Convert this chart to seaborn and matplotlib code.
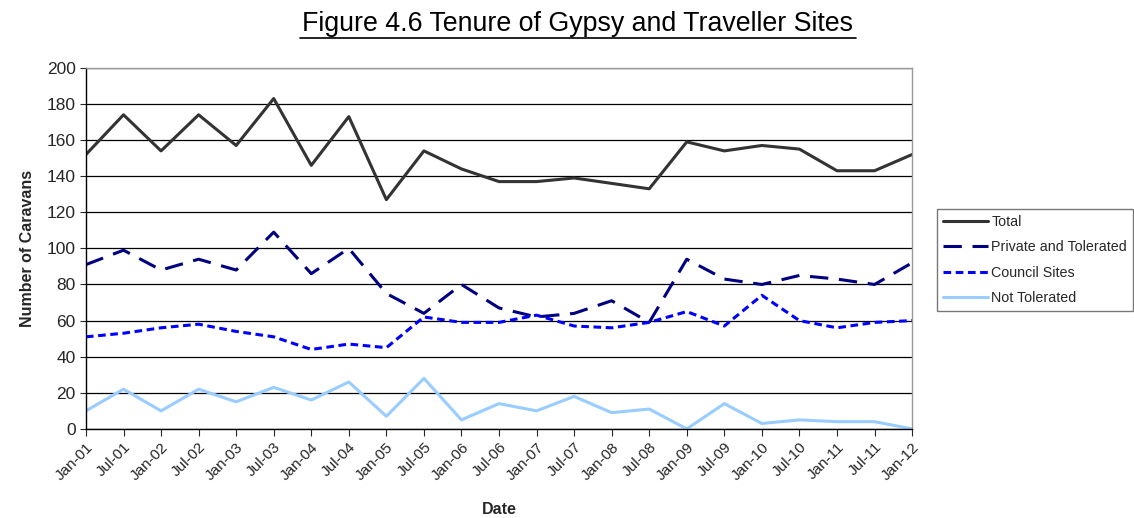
import matplotlib
matplotlib.use("Agg")
import matplotlib.pyplot as plt
import numpy as np
import pandas as pd
import seaborn as sns

DATES = [
    "Jan-01", "Jul-01", "Jan-02", "Jul-02", "Jan-03", "Jul-03", "Jan-04", "Jul-04",
    "Jan-05", "Jul-05", "Jan-06", "Jul-06", "Jan-07", "Jul-07", "Jan-08", "Jul-08",
    "Jan-09", "Jul-09", "Jan-10", "Jul-10", "Jan-11", "Jul-11", "Jan-12",
]
TOTAL = [152, 174, 154, 174, 157, 183, 146, 173, 127, 154, 144, 137,
         137, 139, 136, 133, 159, 154, 157, 155, 143, 143, 152]
PRIVATE = [91, 99, 88, 94, 88, 109, 86, 100, 75, 64, 80, 67,
           62, 64, 71, 59, 94, 83, 80, 85, 83, 80, 92]
COUNCIL = [51, 53, 56, 58, 54, 51, 44, 47, 45, 62, 59, 59,
           63, 57, 56, 59, 65, 57, 74, 60, 56, 59, 60]
NOT_TOLERATED = [10, 22, 10, 22, 15, 23, 16, 26, 7, 28, 5, 14,
                 10, 18, 9, 11, 0, 14, 3, 5, 4, 4, 0]

SERIES = {
    "Total": TOTAL,
    "Private and Tolerated": PRIVATE,
    "Council Sites": COUNCIL,
    "Not Tolerated": NOT_TOLERATED,
}
STYLES = {
    "Total": dict(color="#333333", dashes=None),
    "Private and Tolerated": dict(color="#000080", dashes=(6, 3.5)),
    "Council Sites": dict(color="#0000FF", dashes=(2.5, 1.5)),
    "Not Tolerated": dict(color="#99CCFF", dashes=None),
}

sns.set_style("white")
plt.rcParams["font.family"] = ["Liberation Sans", "DejaVu Sans"]

long_df = pd.DataFrame(
    [
        {"pos": i, "date": d, "series": name, "value": v}
        for name, vals in SERIES.items()
        for i, (d, v) in enumerate(zip(DATES, vals))
    ]
)

fig = plt.figure(figsize=(11.34, 5.18), dpi=100)
ax = fig.add_axes([0.0758, 0.172, 0.7285, 0.697])

for name in SERIES:
    sub = long_df[long_df["series"] == name]
    st = STYLES[name]
    sns.lineplot(data=sub, x="pos", y="value", ax=ax, color=st["color"],
                 linewidth=2.2, label=name)
    line = ax.get_lines()[-1]
    if st["dashes"] is not None:
        line.set_dashes(st["dashes"])

ax.set_xlim(0, len(DATES) - 1)
ax.set_ylim(0, 200)
ax.set_yticks(np.arange(0, 201, 20))
ax.set_xticks(np.arange(len(DATES)))
ax.set_xticklabels(DATES, rotation=45, ha="right", rotation_mode="anchor", fontsize=11)
ax.tick_params(axis="y", labelsize=12.5, length=4, direction="out", left=True, width=0.8)
ax.tick_params(axis="x", length=5, direction="out", bottom=True, width=0.8, pad=3)
ax.yaxis.grid(True, color="black", linewidth=0.9)
ax.xaxis.grid(False)
ax.set_axisbelow(True)

for side in ["left", "bottom"]:
    ax.spines[side].set_color("black")
    ax.spines[side].set_linewidth(1)
for side in ["top", "right"]:
    ax.spines[side].set_color("#999999")
    ax.spines[side].set_linewidth(1)

ax.set_xlabel("Date", fontsize=11.5, fontweight="bold", labelpad=14)
ax.set_ylabel("Number of Caravans", fontsize=11.5, fontweight="bold", labelpad=8)

leg = ax.legend(loc="center left", bbox_to_anchor=(1.030, 0.468), frameon=True,
                fancybox=False, edgecolor="#555555", fontsize=10.3,
                handlelength=3.2, handletextpad=0.2, labelspacing=0.8,
                borderpad=0.4, borderaxespad=0)
leg.get_frame().set_linewidth(1)

fig.text(0.5095, 0.953, "Figure 4.6 Tenure of Gypsy and Traveller Sites",
         ha="center", va="center", fontsize=19.3, color="black")
# underline the title
fig.add_artist(plt.Line2D([0.2645, 0.7545], [0.926, 0.926], color="black",
                          linewidth=1.2, transform=fig.transFigure))

fig.savefig("out.png", dpi=100, facecolor="white")
